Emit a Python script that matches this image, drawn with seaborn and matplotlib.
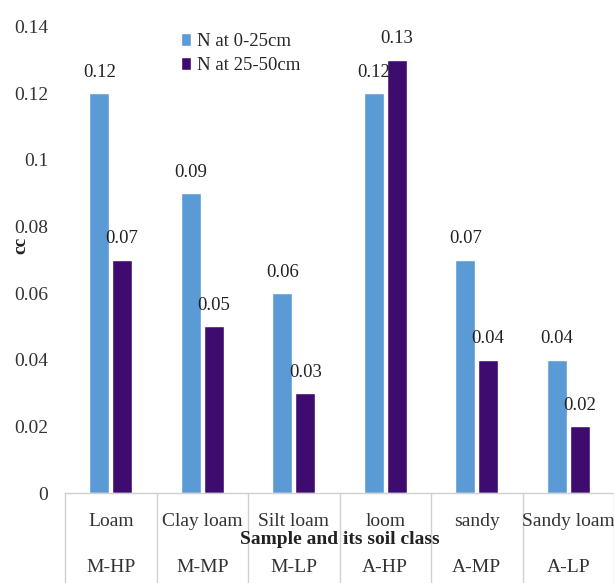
import matplotlib
matplotlib.use("Agg")
import matplotlib.pyplot as plt
import pandas as pd
import seaborn as sns

# Soil samples, their class codes and nitrogen at two depths
soil_types = ["Loam", "Clay loam", "Silt loam", "loom", "sandy", "Sandy loam"]
soil_classes = ["M-HP", "M-MP", "M-LP", "A-HP", "A-MP", "A-LP"]
n_0_25 = [0.12, 0.09, 0.06, 0.12, 0.07, 0.04]
n_25_50 = [0.07, 0.05, 0.03, 0.13, 0.04, 0.02]
series_names = ["N at 0-25cm", "N at 25-50cm"]
y_ticks = [0, 0.02, 0.04, 0.06, 0.08, 0.1, 0.12, 0.14]
y_tick_labels = ["0", "0.02", "0.04", "0.06", "0.08", "0.1", "0.12", "0.14"]

colors = ["#5B9BD5", "#3E0C6E"]

sns.set_theme(style="white")
plt.rcParams["font.family"] = ["Liberation Serif", "DejaVu Serif"]

df = pd.DataFrame({
    "soil": soil_types * 2,
    "value": n_0_25 + n_25_50,
    "series": [series_names[0]] * len(soil_types) + [series_names[1]] * len(soil_types),
})

fig = plt.figure(figsize=(6.14, 5.83), dpi=100)
ax = fig.add_axes([65 / 614, 90 / 583, 549 / 614, (493 - 26.5) / 583])

sns.barplot(data=df, x="soil", y="value", hue="series", order=soil_types,
            hue_order=series_names, palette=colors, width=0.5, gap=0.13,
            saturation=1, ax=ax, legend=True)

for container in ax.containers:
    ax.bar_label(container, fmt="%g", padding=9, fontsize=13.5, color="#222222")

ax.set_xlim(-0.5, len(soil_types) - 0.5)
ax.set_ylim(0, 0.14)
ax.set_yticks(y_ticks)
ax.set_yticklabels(y_tick_labels, fontsize=14, color="#333333")
ax.tick_params(axis="y", length=0, pad=12)
ax.set_xticks([])
ax.set_xlabel("")
ax.set_ylabel("")
for side in ["top", "right", "left"]:
    ax.spines[side].set_visible(False)
ax.spines["bottom"].set_color("#d0d0d0")
ax.spines["bottom"].set_linewidth(1)

# Two-level category axis: soil texture above, class code below, with separators
trans = ax.get_xaxis_transform()
bottom_y = -90 / 466.5
for i in range(len(soil_types) + 1):
    ax.plot([i - 0.5, i - 0.5], [0, bottom_y], transform=trans, color="#d0d0d0",
            lw=1, clip_on=False)
for i, (name, cls) in enumerate(zip(soil_types, soil_classes)):
    ax.text(i, -28 / 466.5, name, transform=trans, ha="center", va="center",
            fontsize=14, color="#333333")
    ax.text(i, -75 / 466.5, cls, transform=trans, ha="center", va="center",
            fontsize=14, color="#333333")

fig.text(340 / 614, 1 - 539 / 583, "Sample and its soil class", ha="center",
         va="center", fontsize=14, fontweight="bold", color="#222222")
fig.text(21 / 614, 1 - 245 / 583, "cc", rotation=90, ha="center", va="center",
         fontsize=14, fontweight="bold", color="#222222")

handles, labels = ax.get_legend_handles_labels()
ax.legend(handles, labels, loc="upper left", bbox_to_anchor=(181 / 614, 1 - 33 / 583),
          bbox_transform=fig.transFigure, frameon=False, fontsize=13.5,
          handlelength=0.55, handleheight=0.7, handletextpad=0.3, labelspacing=0.35,
          borderaxespad=0, borderpad=0)

fig.savefig("out.png", dpi=100)
